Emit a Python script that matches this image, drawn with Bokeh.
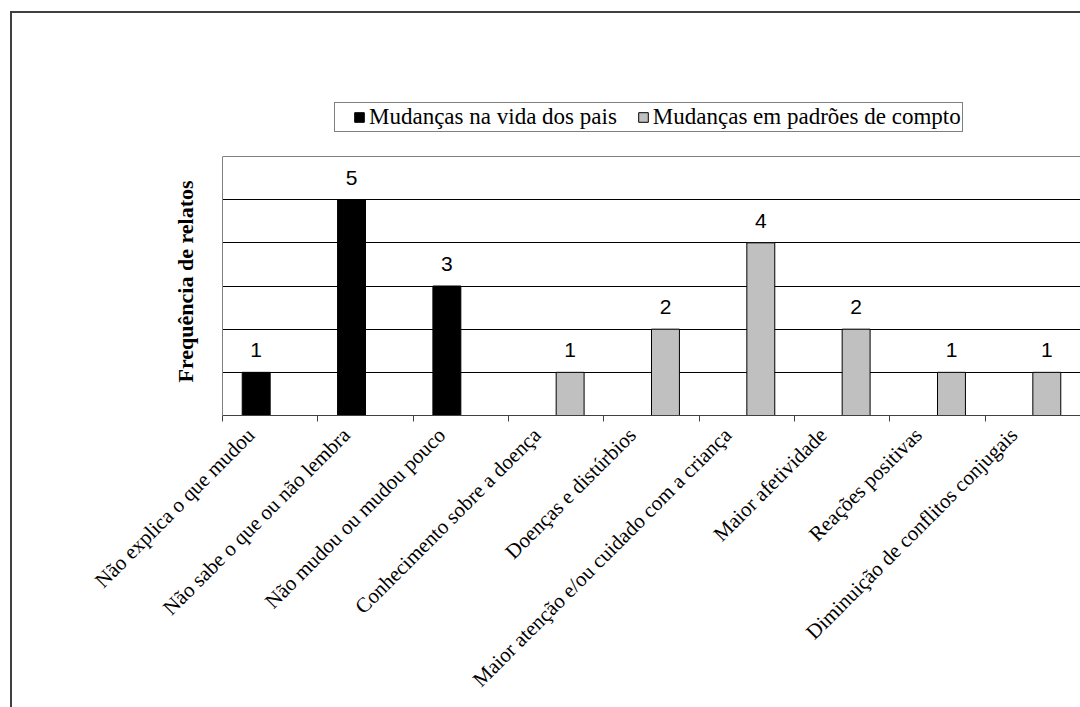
import math
from bokeh.plotting import figure
from bokeh.models import (ColumnDataSource, Range1d, FixedTicker, LabelSet, Legend,
                          LegendItem, Span, Title)
from bokeh.core.properties import value
from bokeh.transform import dodge
from bokeh.embed import file_html
from bokeh.resources import INLINE

# ---- data ----
categories = [
    "Não explica o que mudou",
    "Não sabe o que ou não lembra",
    "Não mudou ou mudou pouco",
    "Conhecimento sobre a doença",
    "Doenças e distúrbios",
    "Maior atenção e/ou cuidado com a criança",
    "Maior afetividade",
    "Reações positivas",
    "Diminuição de conflitos conjugais",
]
vida_pais = [1, 5, 3, 0, 0, 0, 0, 0, 0]
padroes_compto = [0, 0, 0, 1, 2, 4, 2, 1, 1]
series_names = ["Mudanças na vida dos pais", "Mudanças em padrões de compto"]
y_title = "Frequência de relatos"
y_max = 6
y_grid = [1, 2, 3, 4, 5]

n = len(categories)
centers = [i + 0.5 for i in range(n)]
label_pos = [c - 0.2 for c in centers]
bar_w = 0.293

# layout (pixels)
W, H = 1080, 707
top_px, bottom_px, left_px = 95, 292, 222
plot_px = 259          # height of the 0..y_max value area
frame_px = H - top_px - bottom_px

def make_source(vals):
    xs = [c for c, v in zip(centers, vals) if v > 0]
    ys = [v for v in vals if v > 0]
    return ColumnDataSource(dict(x=xs, top=ys, label=[str(v) for v in ys]))

src_a = make_source(vida_pais)
src_b = make_source(padroes_compto)

p = figure(width=W, height=H, output_backend="svg", toolbar_location=None,
           x_range=Range1d(0, n), y_range=Range1d(0, y_max * frame_px / plot_px),
           min_border_left=left_px, min_border_right=0, min_border_top=top_px,
           min_border_bottom=bottom_px, background_fill_color="white",
           border_fill_color="white", border_fill_alpha=0, outline_line_color=None)

# outer chart border (page decoration behind the transparent canvas border)
p.styles = {
    "background-color": "white",
    "background-image": "linear-gradient(#404040, #404040), linear-gradient(#404040, #404040)",
    "background-size": "2px 100%, 100% 2px",
    "background-position": "10px 11px, 10px 11px",
    "background-repeat": "no-repeat",
}

# grid
p.xgrid.visible = False
p.ygrid.ticker = FixedTicker(ticks=y_grid)
p.ygrid.grid_line_color = "#000000"
p.ygrid.grid_line_width = 1
p.add_layout(Span(location=y_max, dimension="width", line_color="#808080", line_width=1))

# bars
r_a = p.vbar(x=dodge("x", -bar_w / 2, range=p.x_range), top="top", width=bar_w, source=src_a,
             fill_color="#000000", line_color="#000000", line_width=1)
r_b = p.vbar(x=dodge("x", bar_w / 2, range=p.x_range), top="top", width=bar_w, source=src_b,
             fill_color="#c0c0c0", line_color="#000000", line_width=1)

# value labels
for src, off in ((src_a, -bar_w / 2), (src_b, bar_w / 2)):
    p.add_layout(LabelSet(x=dodge("x", off, range=p.x_range), y="top", text="label", source=src,
                          y_offset=15, text_align="center", text_baseline="alphabetic",
                          text_font=value("Liberation Sans"), text_font_size=value("21px"),
                          text_color="#000000"))

# x axis
p.xaxis.ticker = FixedTicker(ticks=label_pos, minor_ticks=list(range(n + 1)))
p.xaxis.major_label_overrides = {x: lab for x, lab in zip(label_pos, categories)}
p.xaxis.major_label_orientation = math.pi / 4
p.xaxis.major_label_text_font = "Liberation Serif"
p.xaxis.major_label_text_font_size = "21px"
p.xaxis.major_label_text_color = "#000000"
p.xaxis.major_label_standoff = 10
p.xaxis.major_tick_in = 0
p.xaxis.major_tick_out = 0
p.xaxis.minor_tick_in = 0
p.xaxis.minor_tick_out = 6
p.xaxis.minor_tick_line_color = "#404040"
p.xaxis.axis_line_color = "#404040"

# y axis (no ticks or labels, spine only over the value area)
p.yaxis.ticker = FixedTicker(ticks=[])
p.yaxis.bounds = (0, y_max)
p.yaxis.major_tick_in = 0
p.yaxis.major_tick_out = 0
p.yaxis.minor_tick_in = 0
p.yaxis.minor_tick_out = 0
p.yaxis.major_label_standoff = 0
p.yaxis.axis_line_color = "#808080"

# y-axis title, placed along the value area
p.add_layout(Title(text=y_title, align="left", offset=33,
                   text_font="Liberation Serif", text_font_style="bold",
                   text_font_size="22px", text_color="#000000", standoff=50), "left")

# legend (inside the frame, above the value area)
legend = Legend(items=[LegendItem(label=series_names[0], renderers=[r_a]),
                       LegendItem(label=series_names[1], renderers=[r_b])],
                location=(112, 283), orientation="horizontal",
                title=" ", title_location="left", title_standoff=6,
                title_text_font_size="10px",
                glyph_width=12, glyph_height=12, label_standoff=4, spacing=20,
                padding=1, margin=0, label_height=22,
                label_text_font="Liberation Serif", label_text_font_size="23px",
                label_text_color="#000000",
                border_line_color="#000000", border_line_width=1,
                background_fill_color="white", background_fill_alpha=1)
p.add_layout(legend, "center")

open("out.html", "w").write(file_html(p, INLINE))
